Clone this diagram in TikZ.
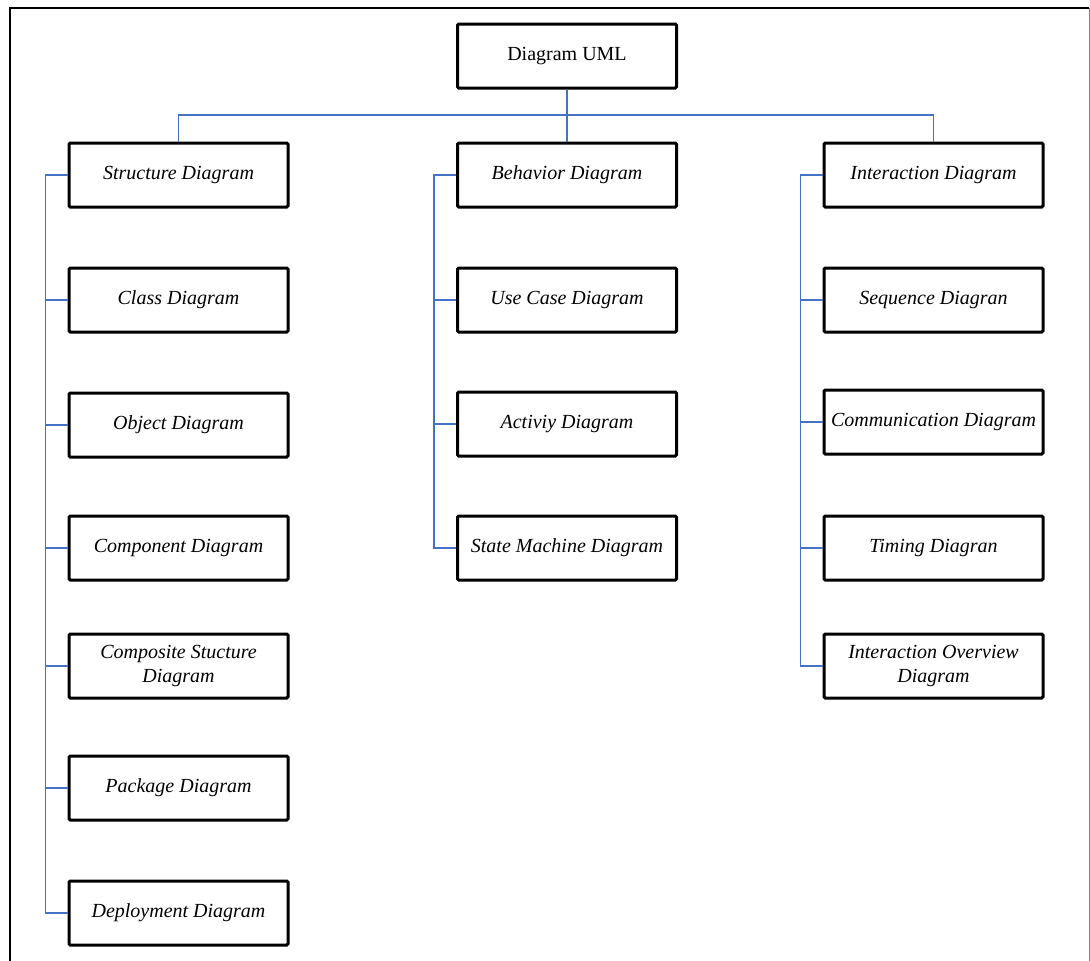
\documentclass[tikz,border=0pt]{standalone}
\usepackage{fontspec}
\setmainfont{Liberation Serif}
\definecolor{linkblue}{HTML}{4472C4}
\begin{document}
\begin{tikzpicture}[x=1pt,y=-1pt,
  box/.style={draw=black,line width=3pt,rounded corners=1.2pt,minimum width=219pt,minimum height=64pt,inner sep=0pt,align=center,font=\fontsize{20}{24}\selectfont\itshape},
  link/.style={draw=linkblue,line width=1.8pt}]
\useasboundingbox (0,0) rectangle (1090,961);
\draw[line width=2pt] (10,970) -- (10,8) -- (1089,8);
\draw[line width=1pt,gray] (1089,8) -- (1089,970);
% top
\node[box,font=\fontsize{20}{24}\selectfont] (top) at (567,56) {Diagram UML};
% structure column
\node[box] (s0) at (178.5,175) {Structure Diagram};
\node[box] (s1) at (178.5,300) {Class Diagram};
\node[box] (s2) at (178.5,425) {Object Diagram};
\node[box] (s3) at (178.5,548) {Component Diagram};
\node[box] (s4) at (178.5,666) {Composite Stucture\\Diagram};
\node[box] (s5) at (178.5,788) {Package Diagram};
\node[box] (s6) at (178.5,913) {Deployment Diagram};
% behavior column
\node[box] (b0) at (567,175) {Behavior Diagram};
\node[box] (b1) at (567,300) {Use Case Diagram};
\node[box] (b2) at (567,424) {Activiy Diagram};
\node[box] (b3) at (567,548) {State Machine Diagram};
% interaction column
\node[box] (i0) at (933.5,175) {Interaction Diagram};
\node[box] (i1) at (933.5,300) {Sequence Diagran};
\node[box] (i2) at (933.5,422) {Communication Diagram};
\node[box] (i3) at (933.5,548) {Timing Diagran};
\node[box] (i4) at (933.5,666) {Interaction Overview\\Diagram};
% bus
\coordinate (busL) at (178.5,115);
\coordinate (busR) at (933.5,115);
\draw[link] (top.south) -- (b0.north);
\draw[link] (s0.north) -- (busL) -- (busR) -- (i0.north);
% side connectors
\foreach \k in {1,...,6} \draw[link] (s0.west) -- ++(-22,0) |- (s\k.west);
\foreach \k in {1,...,3} \draw[link] (b0.west) -- ++(-22,0) |- (b\k.west);
\foreach \k in {1,...,4} \draw[link] (i0.west) -- ++(-22,0) |- (i\k.west);
\end{tikzpicture}
\end{document}
